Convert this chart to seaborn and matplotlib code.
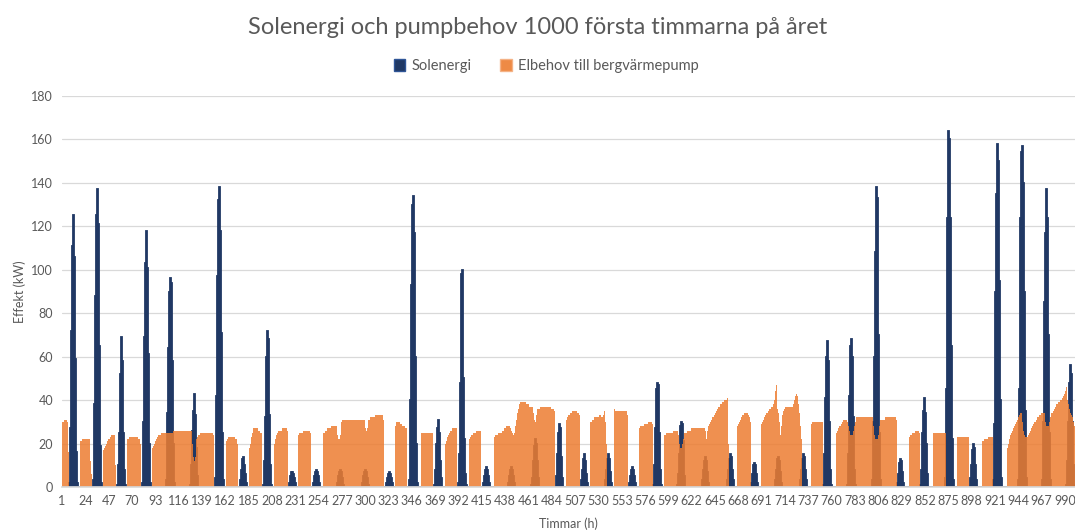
import matplotlib
matplotlib.use("Agg")
import matplotlib.pyplot as plt
from matplotlib.patches import Patch
import seaborn as sns
import numpy as np
import pandas as pd

# Solenergi (kW) per dygn, timme 8-16 på dygnet (övriga timmar 0)
sol_dygn = [
    [2, 27, 72, 111, 125, 106, 59, 16, 2],
    [3, 38, 88, 125, 137, 121, 65, 19, 2],
    [1, 10, 25, 52, 69, 58, 25, 8, 1],
    [2, 30, 69, 103, 118, 101, 61, 20, 2],
    [3, 34, 64, 90, 96, 94, 58, 20, 2],
    [1, 10, 26, 35, 43, 33, 18, 5, 0],
    [4, 42, 97, 132, 138, 118, 71, 25, 3],
    [0, 3, 8, 13, 14, 10, 6, 2, 0],
    [1, 12, 32, 60, 72, 68, 33, 10, 1],
    [0, 2, 5, 7, 7, 6, 4, 2, 0],
    [0, 2, 5, 7, 8, 7, 5, 2, 0],
    [0, 2, 5, 7, 8, 7, 4, 1, 0],
    [0, 2, 5, 7, 8, 7, 4, 1, 0],
    [0, 2, 4, 6, 7, 6, 4, 2, 0],
    [3, 40, 93, 130, 134, 117, 60, 20, 2],
    [1, 8, 20, 27, 31, 25, 12, 4, 0],
    [2, 15, 48, 98, 100, 50, 22, 6, 1],
    [0, 2, 5, 8, 9, 8, 5, 2, 0],
    [0, 2, 5, 8, 9, 8, 5, 2, 0],
    [1, 4, 12, 19, 22, 20, 12, 4, 0],
    [0, 5, 15, 25, 29, 27, 14, 4, 0],
    [0, 3, 8, 13, 15, 12, 6, 2, 0],
    [0, 3, 8, 13, 15, 13, 7, 2, 0],
    [0, 2, 5, 8, 9, 8, 5, 2, 0],
    [1, 10, 27, 45, 48, 47, 25, 8, 1],
    [1, 6, 15, 28, 30, 29, 21, 5, 0],
    [0, 3, 8, 12, 14, 12, 7, 2, 0],
    [0, 3, 8, 13, 15, 14, 8, 3, 0],
    [0, 2, 6, 10, 11, 10, 6, 2, 0],
    [0, 3, 8, 13, 14, 12, 7, 2, 0],
    [0, 3, 8, 13, 15, 14, 8, 3, 0],
    [1, 15, 41, 60, 67, 58, 30, 8, 1],
    [1, 15, 42, 65, 68, 60, 32, 8, 1],
    [3, 30, 60, 108, 138, 133, 70, 25, 3],
    [0, 2, 6, 11, 13, 12, 7, 2, 0],
    [1, 8, 25, 35, 41, 34, 20, 6, 0],
    [4, 45, 124, 164, 160, 124, 65, 22, 3],
    [0, 4, 10, 17, 20, 18, 10, 3, 0],
    [3, 29, 90, 135, 158, 150, 95, 40, 4],
    [3, 45, 124, 154, 157, 140, 90, 35, 4],
    [3, 30, 85, 117, 137, 124, 70, 25, 3],
    [1, 12, 30, 48, 56, 52, 30, 10, 1],
]

# Elbehov till bergvärmepump (kW) per dygn, timme 0-23
pump_dygn = [
    [30, 30, 31, 31, 31, 30, 16, 0, 0, 0, 0, 0, 0, 0, 0, 0, 0, 0, 21, 21, 22, 22, 22, 22],
    [22, 22, 22, 22, 12, 6, 0, 0, 0, 0, 0, 0, 0, 0, 0, 0, 0, 17, 18, 19, 20, 21, 22, 22],
    [23, 24, 24, 24, 24, 10, 0, 0, 0, 0, 0, 0, 0, 0, 0, 0, 0, 22, 22, 23, 23, 23, 23, 23],
    [23, 23, 23, 22, 22, 20, 0, 0, 0, 0, 0, 0, 0, 0, 0, 0, 0, 18, 19, 20, 21, 22, 23, 24],
    [24, 24, 25, 25, 25, 25, 25, 25, 25, 25, 25, 25, 25, 25, 26, 26, 26, 26, 26, 26, 26, 26, 26, 26],
    [26, 26, 26, 26, 26, 26, 26, 26, 26, 20, 14, 12, 14, 22, 23, 24, 24, 25, 25, 25, 25, 25, 25, 25],
    [25, 25, 25, 25, 25, 24, 0, 0, 0, 0, 0, 0, 0, 0, 0, 0, 0, 0, 21, 22, 23, 23, 23, 23],
    [23, 23, 23, 22, 22, 20, 0, 0, 0, 0, 0, 0, 0, 0, 0, 0, 0, 18, 20, 23, 25, 27, 27, 27],
    [27, 27, 26, 26, 25, 25, 0, 0, 0, 0, 0, 0, 0, 0, 0, 0, 0, 0, 20, 22, 24, 25, 26, 26],
    [26, 27, 27, 27, 27, 27, 26, 0, 0, 0, 0, 0, 0, 0, 0, 0, 0, 24, 25, 25, 25, 25, 26, 26],
    [26, 26, 26, 26, 26, 25, 0, 0, 0, 0, 0, 0, 0, 0, 0, 0, 0, 0, 25, 25, 26, 26, 27, 27],
    [27, 27, 28, 28, 28, 28, 28, 28, 24, 22, 22, 24, 30, 31, 31, 31, 31, 31, 31, 31, 31, 31, 31, 31],
    [31, 31, 31, 31, 31, 31, 31, 31, 31, 31, 31, 27, 26, 27, 31, 31, 32, 32, 32, 32, 32, 33, 33, 33],
    [33, 33, 33, 33, 33, 31, 0, 0, 0, 0, 0, 0, 0, 0, 0, 0, 0, 28, 30, 30, 30, 30, 29, 29],
    [28, 28, 28, 27, 27, 0, 0, 0, 0, 0, 0, 0, 0, 0, 0, 0, 0, 0, 0, 25, 25, 25, 25, 25],
    [25, 25, 25, 25, 25, 25, 0, 0, 0, 0, 0, 0, 0, 0, 0, 0, 0, 0, 20, 21, 23, 24, 25, 26],
    [26, 27, 27, 27, 27, 27, 0, 0, 0, 0, 0, 0, 0, 0, 0, 0, 0, 0, 22, 23, 24, 24, 25, 25],
    [25, 26, 26, 26, 26, 26, 0, 0, 0, 0, 0, 0, 0, 0, 0, 0, 0, 0, 0, 23, 24, 24, 25, 25],
    [25, 25, 26, 26, 27, 27, 28, 28, 28, 28, 27, 26, 25, 24, 25, 28, 31, 34, 36, 38, 39, 39, 39, 39],
    [39, 39, 38, 38, 38, 37, 37, 37, 37, 34, 31, 30, 33, 36, 36, 36, 37, 37, 37, 37, 37, 37, 37, 37],
    [37, 37, 37, 36, 36, 36, 35, 0, 0, 0, 0, 0, 0, 0, 0, 0, 0, 0, 31, 32, 33, 34, 34, 35],
    [35, 35, 35, 35, 34, 34, 33, 0, 0, 0, 0, 0, 0, 0, 0, 0, 0, 30, 30, 31, 31, 32, 32, 32],
    [32, 32, 33, 33, 32, 32, 33, 35, 30, 20, 0, 0, 0, 0, 0, 0, 0, 36, 35, 35, 35, 35, 35, 35],
    [35, 35, 35, 35, 35, 35, 33, 0, 0, 0, 0, 0, 0, 0, 0, 0, 0, 0, 27, 28, 28, 28, 29, 29],
    [29, 29, 30, 30, 30, 30, 29, 0, 0, 0, 0, 0, 0, 0, 0, 0, 0, 0, 24, 24, 25, 25, 25, 25],
    [25, 25, 25, 26, 26, 26, 26, 26, 24, 20, 18, 18, 20, 22, 25, 25, 25, 26, 26, 26, 26, 27, 27, 27],
    [27, 27, 27, 27, 27, 27, 27, 27, 27, 27, 27, 26, 22, 26, 28, 29, 30, 31, 32, 33, 34, 35, 36, 37],
    [37, 38, 38, 39, 39, 40, 40, 40, 41, 20, 0, 0, 0, 0, 0, 0, 0, 0, 28, 29, 30, 31, 32, 33],
    [33, 34, 34, 34, 34, 33, 32, 30, 0, 0, 0, 0, 0, 0, 0, 0, 0, 0, 29, 30, 31, 32, 33, 34],
    [34, 35, 36, 36, 37, 37, 38, 40, 44, 47, 36, 34, 30, 24, 28, 33, 35, 36, 37, 37, 37, 37, 37, 37],
    [37, 38, 40, 42, 43, 42, 38, 34, 28, 22, 0, 0, 0, 0, 0, 0, 0, 0, 0, 29, 30, 30, 30, 30],
    [30, 30, 30, 30, 30, 30, 30, 0, 0, 0, 0, 0, 0, 0, 0, 0, 0, 0, 0, 0, 25, 26, 27, 28],
    [28, 29, 30, 31, 31, 31, 31, 30, 28, 26, 24, 24, 24, 26, 28, 30, 32, 32, 32, 32, 32, 32, 32, 32],
    [32, 32, 32, 32, 32, 32, 32, 32, 28, 24, 22, 22, 22, 24, 28, 31, 31, 31, 31, 31, 32, 32, 32, 32],
    [32, 32, 32, 32, 32, 32, 32, 31, 0, 0, 0, 0, 0, 0, 0, 0, 0, 0, 0, 0, 23, 24, 24, 25],
    [25, 25, 26, 26, 26, 26, 25, 0, 0, 0, 0, 0, 0, 0, 0, 0, 0, 0, 0, 25, 25, 25, 25, 25],
    [25, 25, 25, 25, 25, 25, 25, 25, 0, 0, 0, 0, 0, 0, 0, 0, 0, 0, 0, 23, 23, 23, 23, 23],
    [23, 23, 23, 23, 23, 23, 23, 0, 0, 0, 0, 0, 0, 0, 0, 0, 0, 0, 0, 0, 21, 21, 22, 22],
    [22, 22, 23, 23, 23, 23, 23, 0, 0, 0, 0, 0, 0, 0, 0, 0, 0, 0, 0, 0, 18, 20, 22, 24],
    [25, 26, 27, 28, 29, 30, 31, 32, 33, 34, 34, 30, 26, 24, 23, 23, 23, 24, 25, 26, 27, 28, 29, 30],
    [30, 31, 32, 32, 33, 33, 34, 34, 34, 34, 30, 28, 28, 28, 30, 32, 34, 34, 35, 36, 37, 38, 38, 39],
    [39, 40, 40, 41, 42, 43, 44, 46, 40, 38, 36, 34, 33, 32, 30, 28],
]

antal_timmar = 1000
tick_steg = 23

solenergi = []
for dag in sol_dygn:
    solenergi += [0] * 7 + dag + [0] * 8
solenergi = solenergi[:antal_timmar]

elbehov = []
for dag in pump_dygn:
    elbehov += dag
elbehov = elbehov[:antal_timmar]

df = pd.DataFrame({
    "timme": np.arange(1, antal_timmar + 1),
    "Solenergi": solenergi,
    "Elbehov": elbehov,
})

sns.set_theme(style="white")
plt.rcParams["font.family"] = ["Lato", "DejaVu Sans"]

gra_text = "#595959"
bla = "#203864"
orange = "#ED7D31"

fig = plt.figure(figsize=(10.75, 5.31), dpi=100)
ax = fig.add_axes([61.5 / 1075, 44 / 531, 1014 / 1075, 391 / 531])

sns.barplot(data=df, x="timme", y="Solenergi", color=bla, width=1.0,
            errorbar=None, saturation=1, linewidth=1.3, edgecolor=bla, ax=ax)
sns.barplot(data=df, x="timme", y="Elbehov", color=orange, width=1.0,
            errorbar=None, saturation=1, linewidth=0, alpha=0.85, ax=ax)

ax.set_ylim(0, 180)
ax.set_xlim(-0.5, antal_timmar - 0.5)
ax.set_yticks(range(0, 181, 20))
ax.yaxis.grid(True, color="#D9D9D9", linewidth=0.9)
ax.set_axisbelow(True)
pos = list(range(0, antal_timmar, tick_steg))
ax.set_xticks(pos)
ax.set_xticklabels([str(p + 1) for p in pos])
ax.tick_params(axis="both", labelsize=9, colors=gra_text, length=0, pad=6)
for side in ["top", "right", "left"]:
    ax.spines[side].set_visible(False)
ax.spines["bottom"].set_color("#D9D9D9")
ax.set_xlabel("Timmar (h)", fontsize=9, color=gra_text, labelpad=7)
ax.set_ylabel("Effekt (kW)", fontsize=9, color=gra_text, labelpad=4)

fig.suptitle("Solenergi och pumpbehov 1000 första timmarna på året",
             y=0.968, fontsize=17, color=gra_text)

handles = [Patch(facecolor=bla, edgecolor="#2F5597", label="Solenergi"),
           Patch(facecolor=orange, edgecolor="#F4B183", alpha=0.9,
                 label="Elbehov till bergvärmepump")]
fig.legend(handles=handles, loc="center", bbox_to_anchor=(0.508, 1 - 66 / 531),
           ncol=2, frameon=False, fontsize=10.5, labelcolor=gra_text,
           handlelength=0.8, handleheight=0.8, columnspacing=2.0,
           handletextpad=0.4)

fig.savefig("out.png", dpi=100)
